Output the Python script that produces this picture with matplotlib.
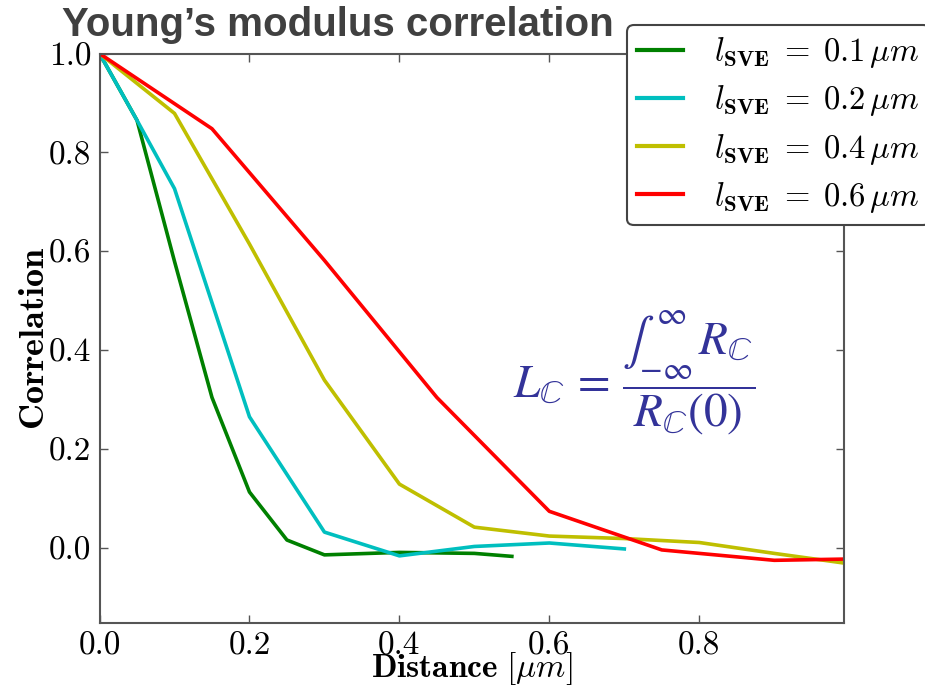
import matplotlib
matplotlib.use("Agg")
import matplotlib.pyplot as plt

# ---- data ----
x_01 = [0.0, 0.05, 0.10, 0.15, 0.20, 0.25, 0.30, 0.40, 0.50, 0.55]
y_01 = [1.0, 0.865, 0.58, 0.305, 0.114, 0.017, -0.013, -0.008, -0.010, -0.016]

x_02 = [0.0, 0.05, 0.10, 0.20, 0.30, 0.40, 0.50, 0.60, 0.70]
y_02 = [1.0, 0.865, 0.727, 0.266, 0.033, -0.015, 0.004, 0.011, -0.001]

x_04 = [0.0, 0.10, 0.20, 0.30, 0.40, 0.50, 0.60, 0.70, 0.80, 0.90, 1.00]
y_04 = [1.0, 0.879, 0.615, 0.34, 0.13, 0.043, 0.025, 0.020, 0.012, -0.010, -0.031]

x_06 = [0.0, 0.15, 0.30, 0.45, 0.60, 0.75, 0.90, 1.05]
y_06 = [1.0, 0.848, 0.582, 0.305, 0.075, -0.003, -0.024, -0.020]

labels = [r"$l_{\mathbf{SVE}}\;\mathbf{=}\;\mathbf{0.1}\,\mu m$",
          r"$l_{\mathbf{SVE}}\;\mathbf{=}\;\mathbf{0.2}\,\mu m$",
          r"$l_{\mathbf{SVE}}\;\mathbf{=}\;\mathbf{0.4}\,\mu m$",
          r"$l_{\mathbf{SVE}}\;\mathbf{=}\;\mathbf{0.6}\,\mu m$"]
colors = [(0, 0.5, 0), (0, 0.75, 0.75), (0.75, 0.75, 0), (1, 0, 0)]
xticks = [0.0, 0.2, 0.4, 0.6, 0.8]
yticks = [0.0, 0.2, 0.4, 0.6, 0.8, 1.0]

plt.rcParams['mathtext.fontset'] = 'cm'
plt.rcParams['font.family'] = 'serif'
plt.rcParams['font.serif'] = ['cmr10', 'DejaVu Serif']
plt.rcParams['axes.formatter.use_mathtext'] = True

fig = plt.figure(figsize=(9.25, 6.86), dpi=100)
ax = fig.add_axes([0.1076, 0.0923, 0.9124 - 0.1076, 0.922 - 0.0923])

series = [(x_01, y_01), (x_02, y_02), (x_04, y_04), (x_06, y_06)]
for (xs, ys), c, lab in zip(series, colors, labels):
    ax.plot(xs, ys, color=c, lw=2.6, label=lab)

ax.set_xlim(0, 0.993)
ax.set_ylim(-0.15, 1.0)
ax.set_xticks(xticks)
ax.set_yticks(yticks)
ax.set_xticklabels([f"{v:.1f}" for v in xticks])
ax.set_yticklabels([f"{v:.1f}" for v in yticks])
ax.tick_params(direction='in', top=True, right=True, length=6, width=1,
               color='#555555', labelsize=24, pad=6)
for s in ax.spines.values():
    s.set_color('#555555')
    s.set_linewidth(1.5)

ax.set_xlabel(r"$\mathbf{Distance}\ [\mu m]$", fontsize=24, labelpad=-7)
ax.set_ylabel(r"$\mathbf{Correlation}$", fontsize=26, labelpad=-2)

leg = fig.legend(loc='upper left', bbox_to_anchor=(627 / 925, 1 - 25 / 686),
                 borderaxespad=0, fontsize=23.5, frameon=True, fancybox=True,
                 handlelength=1.4, handletextpad=0.95, labelspacing=0.4,
                 borderpad=0.32)
leg.get_frame().set_edgecolor('#444444')
leg.get_frame().set_linewidth(1.5)
leg.get_frame().set_alpha(1)
for ln in leg.get_lines():
    ln.set_linewidth(3)

fig.text(62 / 925, 1 - 25 / 686, "Young\u2019s modulus correlation",
         family='Liberation Sans', weight='bold', fontsize=29,
         color='#404040', va='center', ha='left')

ax.text(513 / 925, 1 - 373 / 686,
        r"$L_{\mathbb{C}}\,=\,\dfrac{\int_{-\infty}^{\infty}\, R_{\mathbb{C}}}{R_{\mathbb{C}}(0)}$",
        transform=fig.transFigure, fontsize=34, color='#333399',
        math_fontfamily='stix', va='center', ha='left')

fig.savefig("out.png", dpi=100)
